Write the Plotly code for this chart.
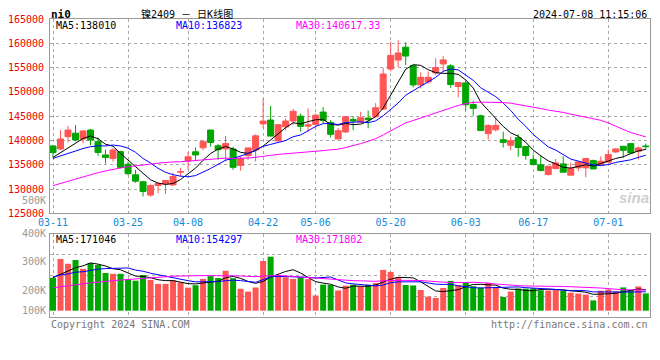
import plotly.graph_objects as go

# ---------------- data ----------------
dates = [
    "03-11", "03-12", "03-13", "03-14", "03-15", "03-18", "03-19", "03-20", "03-21", "03-22",
    "03-25", "03-26", "03-27", "03-28", "03-29", "04-01", "04-02", "04-03", "04-08", "04-09",
    "04-10", "04-11", "04-12", "04-15", "04-16", "04-17", "04-18", "04-19", "04-22", "04-23",
    "04-24", "04-25", "04-26", "04-29", "04-30", "05-06", "05-07", "05-08", "05-09", "05-10",
    "05-13", "05-14", "05-15", "05-16", "05-17", "05-20", "05-21", "05-22", "05-23", "05-24",
    "05-27", "05-28", "05-29", "05-30", "05-31", "06-03", "06-04", "06-05", "06-06", "06-07",
    "06-11", "06-12", "06-13", "06-14", "06-17", "06-18", "06-19", "06-20", "06-21", "06-24",
    "06-25", "06-26", "06-27", "06-28", "07-01", "07-02", "07-03", "07-04", "07-05", "07-08",
]

opens = [
    138860, 138250, 140780, 141490, 140300, 142140, 139750, 137010, 136270, 137700,
    135100, 132920, 131490, 128750, 130730, 131040, 130840, 133480, 135790, 137660,
    138480, 142140, 138900, 138260, 138230, 134850, 136860, 138060, 143400, 144200,
    139900, 142800, 144000, 145000, 142950, 143300, 145850, 143700, 140300, 141750,
    144300, 143800, 144600, 144880, 146450, 154700, 156550, 159200, 155400, 151430,
    152050, 153900, 155750, 155350, 151100, 151850, 147400, 145080, 141380, 142200,
    140150, 139000, 140560, 138750, 136060, 134970, 132980, 134210, 135170, 132850,
    134350, 134350, 135850, 135030, 135510, 137630, 138800, 139340, 137770, 138860,
]
highs = [
    139060, 142140, 143000, 143160, 142140, 142350, 140600, 138110, 138380, 137870,
    135650, 133940, 131700, 130940, 131210, 131830, 133330, 134350, 137640, 138550,
    140090, 142160, 139240, 140920, 138710, 136700, 138470, 141270, 148600, 147100,
    143300, 144500, 146500, 145550, 146600, 145550, 146900, 144200, 142550, 145000,
    145000, 145900, 146150, 147680, 154950, 160300, 160600, 160200, 155500, 154030,
    154200, 156900, 157400, 155700, 152000, 152200, 148160, 145300, 143300, 144700,
    141800, 140760, 141280, 138850, 137090, 136880, 134690, 136200, 136740, 135380,
    135580, 136400, 136060, 136740, 138110, 138450, 138800, 139480, 138800, 139340,
]
lows = [
    136370, 138040, 139580, 139820, 139410, 139000, 136850, 135240, 135650, 134280,
    132850, 131280, 128480, 128410, 129160, 128990, 130630, 132580, 133950, 135820,
    137970, 138720, 136025, 135700, 133960, 133790, 136000, 135670, 142600, 140800,
    139850, 142100, 143200, 141800, 141700, 142650, 143500, 140600, 140250, 141550,
    142100, 143580, 142500, 144680, 146250, 154200, 155100, 155530, 150900, 150700,
    151700, 153400, 154000, 150850, 148850, 146150, 145080, 142000, 140150, 141860,
    138540, 137950, 136650, 136050, 135030, 133670, 132780, 134010, 133460, 132850,
    133670, 132430, 134010, 134690, 135380, 137430, 136400, 137220, 136060, 138110,
]
closes = [
    137530, 140300, 142140, 140090, 141940, 140090, 137530, 136470, 138040, 134450,
    133160, 131620, 129500, 130730, 131140, 131740, 132580, 133560, 136640, 137010,
    139750, 139570, 138080, 139350, 134470, 136280, 138460, 140950, 144000, 140900,
    143250, 144000, 146000, 142900, 143200, 145200, 144130, 141250, 142000, 144880,
    144000, 144680, 144270, 146720, 153680, 157500, 158000, 157370, 151430, 153000,
    153000, 155000, 156580, 151500, 151930, 147340, 146600, 142030, 143100, 143100,
    139600, 139950, 138540, 136900, 135030, 133800, 134690, 135380, 133460, 134210,
    135580, 136270, 134140, 135720, 137090, 138250, 137970, 137430, 138450, 138730,
]
volumes = [
    269000, 422000, 383000, 414000, 342000, 388000, 373000, 308000, 301000, 301000,
    257000, 245000, 292000, 251000, 219000, 219000, 247000, 231000, 188000, 208000,
    259000, 282000, 267000, 326000, 265000, 179000, 156000, 189000, 406000, 441000,
    292000, 273000, 259000, 273000, 258000, 124000, 213000, 210000, 165000, 204000,
    212000, 199000, 212000, 225000, 333000, 317000, 275000, 210000, 206000, 169000,
    115000, 104000, 186000, 243000, 209000, 234000, 200000, 188000, 226000, 194000,
    112000, 156000, 181000, 180000, 183000, 167000, 165000, 173000, 163000, 147000,
    140000, 132000, 84000, 163000, 173000, 158000, 190000, 169000, 198000, 141000,
]
# sessions before 03-11 (not drawn, only feed the moving averages)
hist_closes = [
    127100, 126400, 126800, 127600, 127300, 126500, 126200, 126700, 127000,
    125700, 124900, 125200, 125600, 125100, 125800,
    130800, 132500, 133400, 132900, 134100,
    135300, 136200, 135800, 136900, 136300,
    135600, 136800, 136200, 136400,
]
hist_volumes = [
    142000, 156000, 148000, 161000, 139000, 152000, 147000, 158000, 144000, 153000,
    118000, 96000, 87000, 104000, 121000, 115000, 128000,
    176000, 198000, 224000,
    262000, 291000, 276000, 305000, 268000,
    284000, 259000, 273000, 265000,
]

date_ticks = ["03-11", "03-25", "04-08", "04-22", "05-06", "05-20", "06-03", "06-17", "07-01"]
price_ticks = [125000, 130000, 135000, 140000, 145000, 150000, 155000, 160000, 165000]
vol_tick_labels = ["500K", "400K", "300K", "200K", "100K"]
price_ma_labels = ["MA5:138010", "MA10:136823", "MA30:140617.33"]
vol_ma_labels = ["MA5:171046", "MA10:154297", "MA30:171802"]
ma_periods = [5, 10, 30]

symbol = "ni0"
title = "镍2409 － 日K线图"
stamp = "2024-07-08 11:15:06"
copyright_text = "Copyright 2024 SINA.COM"
url_text = "http://finance.sina.com.cn"

# ---------------- styling / geometry ----------------
W, H = 660, 360
PAGE_OFF = 8                      # default body margin of the html page
PLOT_L, PLOT_R = 50, 650          # plot area on the page (pixels)
PLOT_T, PLOT_B = 19, 317
ML = PLOT_L - PAGE_OFF
MT = PLOT_T - PAGE_OFF
MR = W - (PLOT_R - PAGE_OFF)
MB = H - (PLOT_B - PAGE_OFF)
PW, PH = PLOT_R - PLOT_L, PLOT_B - PLOT_T

RED = "#ff5555"
GREEN = "#00a600"
MA_COLORS = ["#000000", "#0000ff", "#ff00ff"]
GRID = "#a8a8a8"
BORDER = "#9a9a9a"
MONO = "DejaVu Sans Mono"


def px_x(x):
    return (x - PLOT_L) / PW


def px_y(y):
    return (PLOT_B - y) / PH


def moving_average(values, history, n):
    full = list(history) + list(values)
    off = len(history)
    return [sum(full[off + i - n + 1: off + i + 1]) / n for i in range(len(values))]


fig = go.Figure()

fig.add_trace(go.Candlestick(
    x=dates, open=opens, high=highs, low=lows, close=closes,
    increasing=dict(line=dict(color=RED, width=1), fillcolor=RED),
    decreasing=dict(line=dict(color=GREEN, width=1), fillcolor=GREEN),
    whiskerwidth=0, showlegend=False, xaxis="x", yaxis="y",
))
for n, col in zip(ma_periods, MA_COLORS):
    fig.add_trace(go.Scatter(
        x=dates, y=moving_average(closes, hist_closes, n), mode="lines",
        line=dict(color=col, width=1), showlegend=False, xaxis="x", yaxis="y",
    ))

bar_colors = [RED if c >= o else GREEN for o, c in zip(opens, closes)]
fig.add_trace(go.Bar(
    x=dates, y=volumes, marker=dict(color=bar_colors, line=dict(width=0)),
    width=0.8, showlegend=False, xaxis="x2", yaxis="y2",
))
for n, col in zip(ma_periods, MA_COLORS):
    fig.add_trace(go.Scatter(
        x=dates, y=moving_average(volumes, hist_volumes, n), mode="lines",
        line=dict(color=col, width=1), showlegend=False, xaxis="x2", yaxis="y2",
    ))

# panel geometry (page pixels)
PRICE_BOT = 213.3
VOL_TOP = 234.3
VOL_BASE = 310.7
VOL_PER_PX = 8160
vol_lo = -(PLOT_B - VOL_BASE) * VOL_PER_PX
vol_hi = (VOL_BASE - VOL_TOP) * VOL_PER_PX
vol_grid = [vol_lo + k * (vol_hi - vol_lo) / 4 for k in (1, 2, 3)]

x_common = dict(
    type="category", range=[-0.4, len(dates) - 0.44],
    tickvals=date_ticks, ticktext=date_ticks,
    showgrid=True, gridcolor=GRID, griddash="dot", gridwidth=1,
    showline=True, mirror=True, linecolor=BORDER, linewidth=1,
    ticks="", zeroline=False, fixedrange=True, automargin=False,
)

fig.update_layout(
    width=W, height=H, autosize=False,
    margin=dict(l=ML, r=MR, t=MT, b=MB, pad=0, autoexpand=False),
    paper_bgcolor="white", plot_bgcolor="white",
    font=dict(family=MONO, size=10, color="#000"),
    boxgap=0.2, boxgroupgap=0, bargap=0.2,
    xaxis=dict(**x_common, domain=[0, 1], anchor="y",
               tickfont=dict(family=MONO, size=10, color="#1288d8"),
               rangeslider=dict(visible=False)),
    xaxis2=dict(**x_common, domain=[0, 1], anchor="y2", matches="x",
                showticklabels=False),
    yaxis=dict(domain=[px_y(PRICE_BOT), 1], range=[price_ticks[0], price_ticks[-1]],
               tickvals=price_ticks, ticktext=[str(v) for v in price_ticks],
               tickfont=dict(family=MONO, size=10, color="#ee0000"),
               showgrid=True, gridcolor=GRID, griddash="dot", gridwidth=1,
               showline=True, mirror=True, linecolor=BORDER, linewidth=1,
               ticks="", ticklabelstandoff=3, zeroline=False, fixedrange=True,
               automargin=False),
    yaxis2=dict(domain=[0, px_y(VOL_TOP)], range=[vol_lo, vol_hi],
                tickvals=vol_grid, showticklabels=False,
                showgrid=True, gridcolor=GRID, griddash="dot", gridwidth=1,
                showline=True, mirror=True, linecolor=BORDER, linewidth=1,
                ticks="", zeroline=False, fixedrange=True, automargin=False),
    showlegend=False,
)

ann = []


def text(t, x, y, color="#000", size=10, xanchor="left", family=MONO, **kw):
    ann.append(dict(text=t, x=px_x(x), y=px_y(y), xref="paper", yref="paper",
                    xanchor=xanchor, yanchor="middle", showarrow=False,
                    borderpad=0, font=dict(family=family, size=size, color=color), **kw))


text("<b>" + symbol + "</b>", 50, 14.5, size=11)
text(title, 140, 14.0, size=10, family="DejaVu Sans Mono, Noto Sans CJK SC")
text(stamp, 648, 14.2, xanchor="right")
for lab, col, x in zip(price_ma_labels, MA_COLORS, [55, 175, 295]):
    text(lab, x, 25.9, color=col)
for lab, col, x in zip(vol_ma_labels, MA_COLORS, [55, 175, 295]):
    text(lab, x, 239, color=col)
for lab, y in zip(vol_tick_labels, [200, 233.8, 261, 290, 310.3]):
    text(lab, 47, y, color="#999999", xanchor="right")
text(copyright_text, 50, 324, color="#777777")
text(url_text, 649, 324, color="#777777", xanchor="right")
text("<b><i>sina</i></b>", 650, 197, color="#cfcfcf", size=15,
     xanchor="right", family="Liberation Sans")

fig.update_layout(annotations=ann)
fig.write_html("out.html")
